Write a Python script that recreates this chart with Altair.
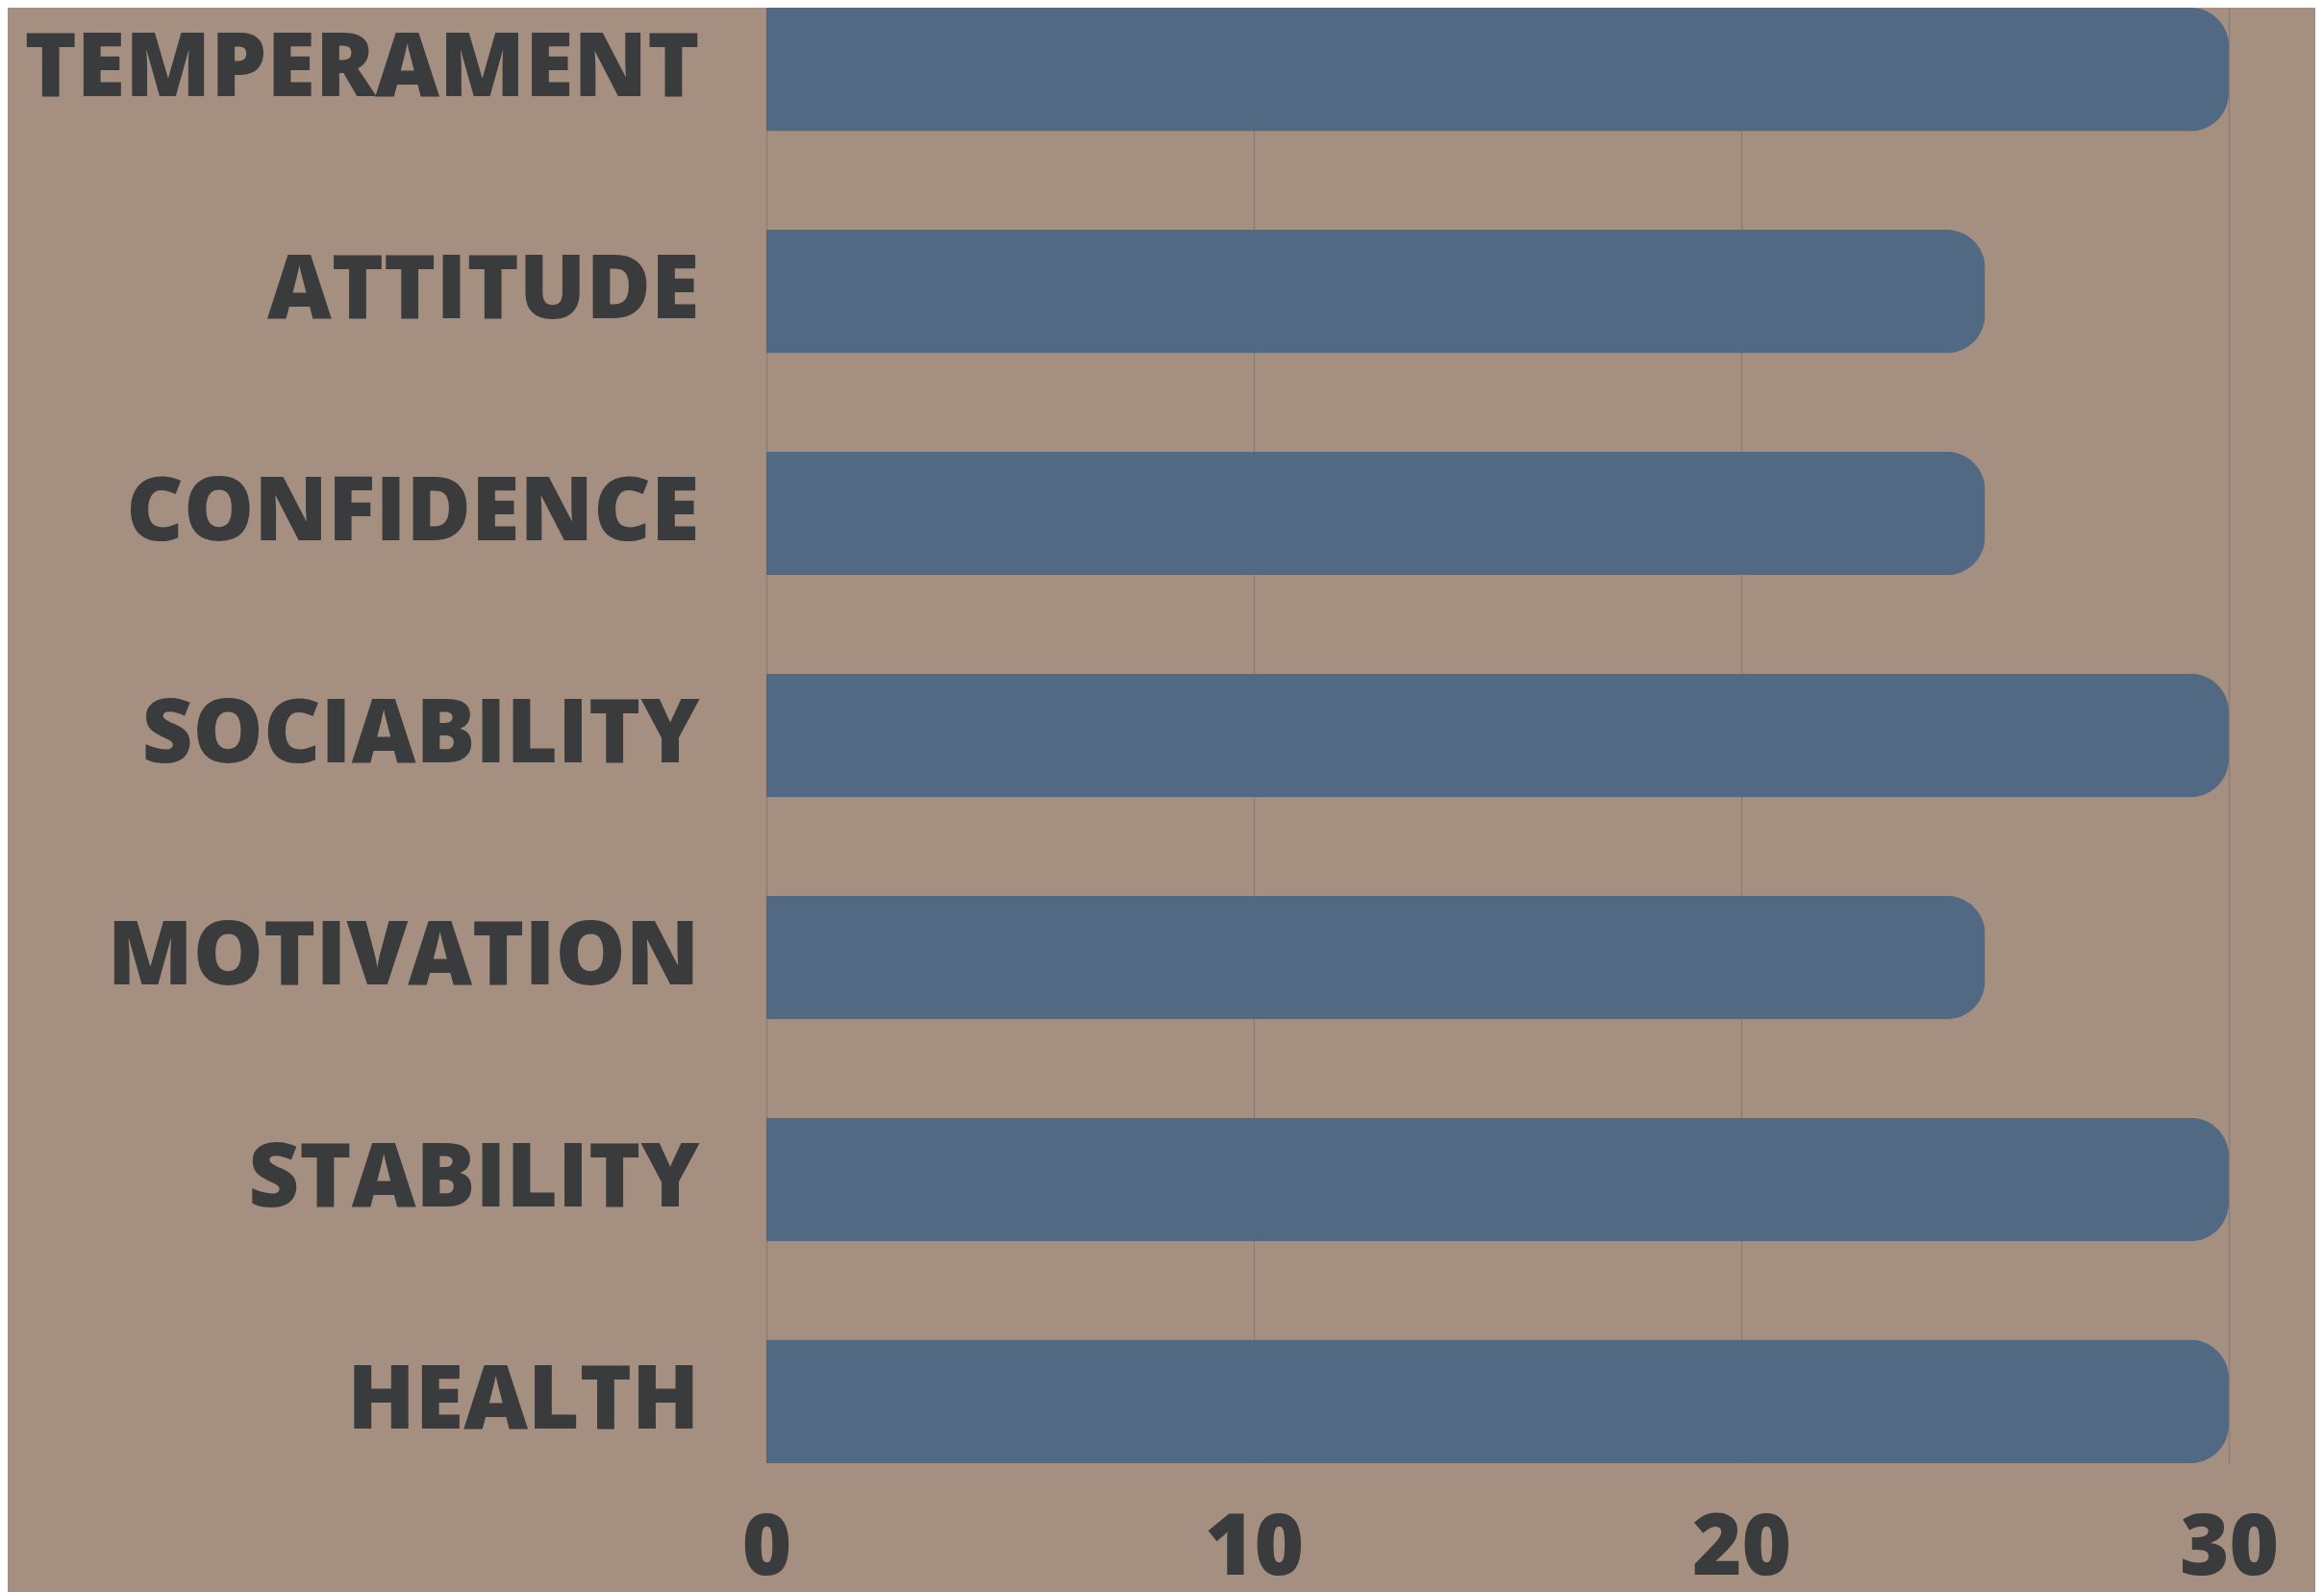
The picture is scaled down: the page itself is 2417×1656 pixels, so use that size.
import altair as alt
import pandas as pd

categories = ["TEMPERAMENT", "ATTITUDE", "CONFIDENCE", "SOCIABILITY", "MOTIVATION", "STABILITY", "HEALTH"]
values = [30, 25, 25, 30, 25, 30, 30]
x_ticks = [0, 10, 20, 30]

df = pd.DataFrame({"trait": categories, "score": values})

BG = "#a58f81"
BAR = "#526983"
TXT = "#393b3d"
GRID = "#8a7a6f"
FONT = "Open Sans"

chart = alt.Chart(df).mark_bar(color=BAR, cornerRadiusEnd=40).encode(
    x=alt.X("score:Q",
            scale=alt.Scale(domain=[0, 30], nice=False),
            axis=alt.Axis(values=x_ticks, title=None, domain=False, ticks=False,
                          grid=True, gridColor=GRID, gridWidth=1.2,
                          labelFont=FONT, labelFontSize=88, labelFontWeight=800,
                          labelColor=TXT, labelPadding=45, labelFlush=False)),
    y=alt.Y("trait:N", sort=categories,
            scale=alt.Scale(paddingInner=0.444, paddingOuter=0),
            axis=alt.Axis(title=None, domain=False, ticks=False, grid=False,
                          labelFont=FONT, labelFontSize=92, labelFontWeight=800,
                          labelColor=TXT, labelPadding=70, labelLimit=1000)),
).properties(
    width=1521,
    height=1514,
    background=BG,
    padding={"left": 789, "top": 0, "right": 90, "bottom": 134},
    autosize=alt.AutoSizeParams(type="none"),
).configure_view(stroke=None)

chart.save("out.html", embed_options={"renderer": "svg", "actions": False})
